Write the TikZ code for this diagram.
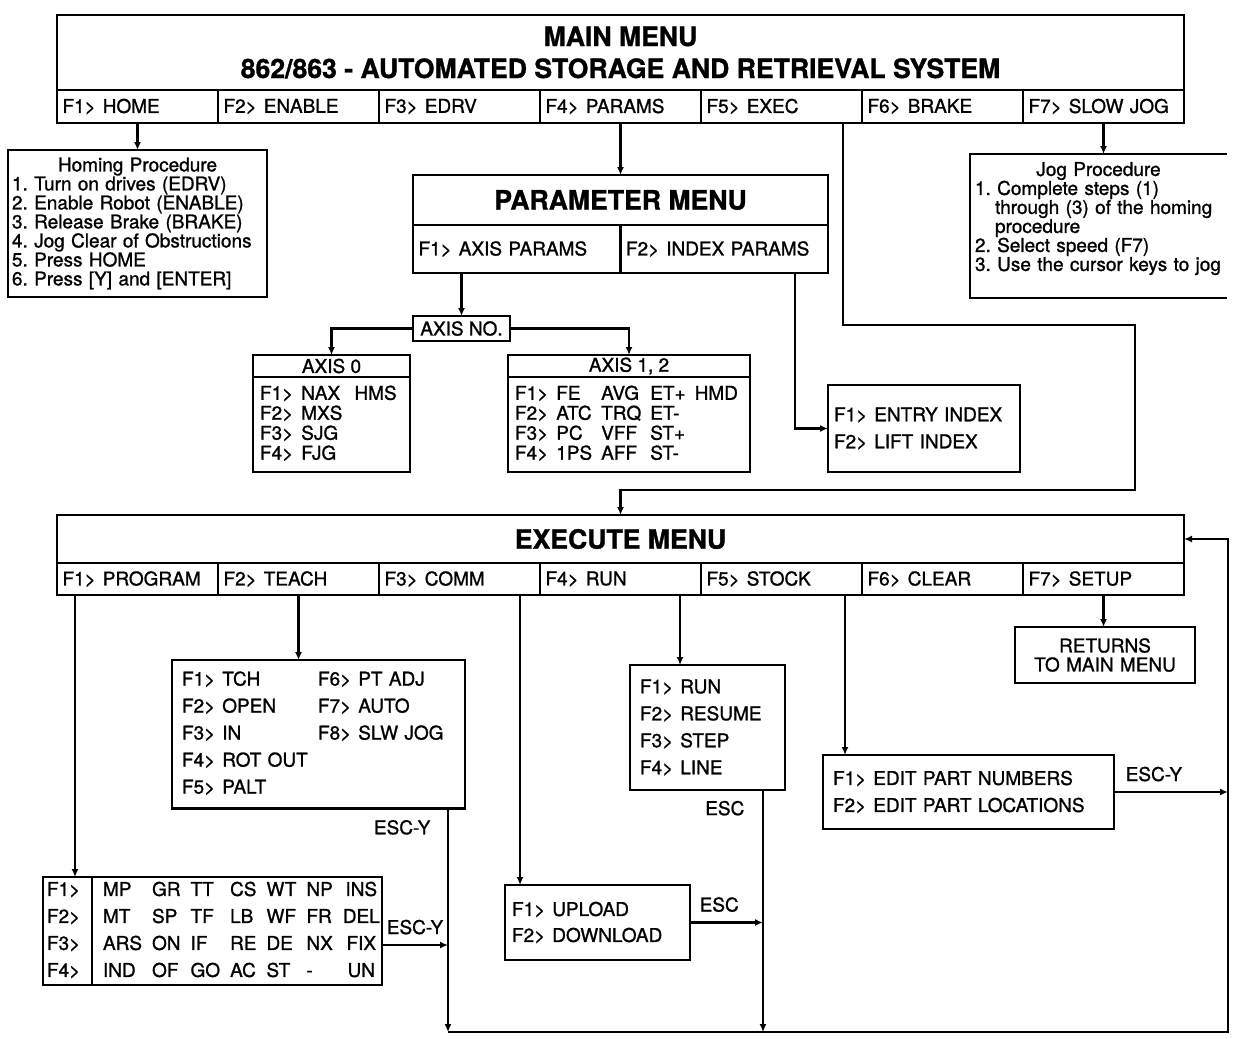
\documentclass[tikz,border=0pt]{standalone}
\usepackage{fontspec}
\setmainfont{TeX Gyre Heros}[FakeBold=1.1]
\usetikzlibrary{positioning,arrows.meta}
\frenchspacing
\newcommand{\Fk}[1]{F#1>\hspace{3.5pt}}

\begin{document}
\begin{tikzpicture}[
  x=0.5pt, y=-0.5pt,
  every node/.style={font=\fontsize{9.5}{9.6}\selectfont, outer sep=0pt},
  ttl/.style  ={draw, line width=1.4pt, anchor=north west, align=center,
                font=\fontsize{13.3}{16}\selectfont\bfseries},
  fkey/.style ={draw, line width=1.4pt, text width=75pt, inner xsep=2.75pt,
                minimum height=16.5pt, align=left},
  hdr/.style  ={draw, line width=1.4pt, anchor=north west, inner sep=0pt,
                minimum height=11pt},
  panel/.style={draw, line width=1.4pt, anchor=north west, align=left,
                inner xsep=5pt, font=\fontsize{9.5}{13.5}\selectfont},
  proc/.style ={panel, inner xsep=2.5pt, font=\fontsize{9.5}{9.5}\selectfont},
  arr/.style  ={-{Latex[length=4pt,width=3.5pt]}, line width=1.2pt},
  esc/.style  ={font=\fontsize{9.5}{9.6}\selectfont}
]
\useasboundingbox (0,0) rectangle (1234,1038);

%% --- Main menu -----------------------------------------------
\node[ttl, minimum width=563.5pt, minimum height=37.5pt] (mtitle) at (57,15)
     {MAIN MENU\\862/863 - AUTOMATED STORAGE AND RETRIEVAL SYSTEM};
\node[fkey, anchor=north west] (mf1) at (mtitle.south west) {\Fk{1}HOME};
\node[fkey, right=0pt of mf1] (mf2) {\Fk{2}ENABLE};
\node[fkey, right=0pt of mf2] (mf3) {\Fk{3}EDRV};
\node[fkey, right=0pt of mf3] (mf4) {\Fk{4}PARAMS};
\node[fkey, right=0pt of mf4] (mf5) {\Fk{5}EXEC};
\node[fkey, right=0pt of mf5] (mf6) {\Fk{6}BRAKE};
\node[fkey, right=0pt of mf6] (mf7) {\Fk{7}SLOW JOG};

%% --- Procedures ----------------------------------------------
\node[proc, inner xsep=2pt, text width=125.5pt, minimum height=73.5pt] (homing) at (8,150)
     {\makebox[\hsize]{Homing Procedure}\\
      1. Turn on drives (EDRV)\\
      2. Enable Robot (ENABLE)\\
      3. Release Brake (BRAKE)\\
      4. Jog Clear of Obstructions\\
      5. Press HOME\\
      6. Press [Y] and [ENTER]};
\node[proc, draw=none, text width=123.5pt, minimum height=72pt] (jog) at (970,154)
     {\makebox[\hsize]{Jog Procedure}\\
      1. Complete steps (1)\\
      \hspace*{10pt}through (3) of the homing\\
      \hspace*{10pt}procedure\\
      2. Select speed (F7)\\
      3. Use the cursor keys to jog\\
      \mbox{}};
% open on the right
\draw[line width=1.4pt] (jog.north east) -- (jog.north west)
     -- (jog.south west) -- (jog.south east);

%% --- Parameter menu ------------------------------------------
\node[ttl, minimum width=207.5pt, minimum height=25pt] (ptitle) at (413,175)
     {PARAMETER MENU};
\node[fkey, text width=98.25pt, minimum height=24pt, anchor=north west] (pf1)
     at (ptitle.south west) {\Fk{1}AXIS PARAMS};
\node[fkey, text width=98.25pt, minimum height=24pt, right=0pt of pf1] (pf2)
     {\Fk{2}INDEX PARAMS};

\node[draw, line width=1.4pt, minimum width=48.5pt, minimum height=12.5pt,
      inner sep=0pt] (axisno) at (461.5,328.5) {AXIS NO.};

\node[hdr, minimum width=78.5pt] (ax0h) at (253,355) {AXIS 0};
\node[panel, inner xsep=3.5pt, text width=71.5pt, minimum height=47.5pt,
      font=\fontsize{9.5}{9.6}\selectfont] (ax0) at (ax0h.south west)
     {\begin{tabular}{@{}l@{\hspace{4pt}}l@{\hspace{6pt}}l@{}}
      F1> & NAX & HMS\\ F2> & MXS\\ F3> & SJG\\ F4> & FJG
      \end{tabular}\\[-2pt]\mbox{}};

\node[hdr, minimum width=121pt] (ax12h) at (508,355) {AXIS 1, 2};
\node[panel, inner xsep=3.5pt, text width=114pt, minimum height=47.5pt,
      font=\fontsize{9.5}{9.6}\selectfont] (ax12) at (ax12h.south west)
     {\begin{tabular}{@{}l@{\hspace{4pt}}l@{\hspace{4.5pt}}l@{\hspace{4.5pt}}l@{\hspace{4.5pt}}l@{}}
      F1> & FE  & AVG & ET+ & HMD\\
      F2> & ATC & TRQ & ET-\\
      F3> & PC  & VFF & ST+\\
      F4> & 1PS & AFF & ST-
      \end{tabular}\\[-2pt]\mbox{}};

\node[panel, inner xsep=3pt, text width=90pt, minimum height=43.5pt] (index) at (828,385)
     {\Fk{1}ENTRY INDEX\\\Fk{2}LIFT INDEX};

%% --- Execute menu --------------------------------------------
\node[ttl, minimum width=563.5pt, minimum height=24pt] (etitle) at (57,515)
     {EXECUTE MENU};
\node[fkey, minimum height=16pt, anchor=north west] (ef1) at (etitle.south west)
     {\Fk{1}PROGRAM};
\node[fkey, minimum height=16pt, right=0pt of ef1] (ef2) {\Fk{2}TEACH};
\node[fkey, minimum height=16pt, right=0pt of ef2] (ef3) {\Fk{3}COMM};
\node[fkey, minimum height=16pt, right=0pt of ef3] (ef4) {\Fk{4}RUN};
\node[fkey, minimum height=16pt, right=0pt of ef4] (ef5) {\Fk{5}STOCK};
\node[fkey, minimum height=16pt, right=0pt of ef5] (ef6) {\Fk{6}CLEAR};
\node[fkey, minimum height=16pt, right=0pt of ef6] (ef7) {\Fk{7}SETUP};

\node[panel, text width=136.5pt, minimum height=73.5pt] (teach) at (172,660)
     {\begin{tabular}{@{}p{68pt}@{}l@{}}
      \Fk{1}TCH     & \Fk{6}PT ADJ\\
      \Fk{2}OPEN    & \Fk{7}AUTO\\
      \Fk{3}IN      & \Fk{8}SLW JOG\\
      \Fk{4}ROT OUT & \\
      \Fk{5}PALT    &
      \end{tabular}};

\node[panel, text width=67.5pt, minimum height=62.5pt] (run) at (630,665)
     {\Fk{1}RUN\\\Fk{2}RESUME\\\Fk{3}STEP\\\Fk{4}LINE};

\node[panel, text width=135.5pt, minimum height=37pt] (stock) at (823,755)
     {\Fk{1}EDIT PART NUMBERS\\\Fk{2}EDIT PART LOCATIONS};

\node[panel, align=center, text width=80pt, minimum height=28pt,
      font=\fontsize{9.5}{9.5}\selectfont] (returns) at (1015,627)
     {RETURNS\\TO MAIN MENU};

\node[panel, inner xsep=3.5pt, text width=85.5pt, minimum height=37.5pt,
      font=\fontsize{9.5}{13}\selectfont] (upload) at (505,885)
     {\Fk{1}UPLOAD\\\Fk{2}DOWNLOAD};

\node[panel, inner xsep=2pt, inner ysep=0pt, text width=20.5pt,
      minimum height=54pt] (progkeys) at (43,877)
     {\begin{tabular}{@{}l@{}}F1>\\F2>\\F3>\\F4>\end{tabular}};
\node[panel, inner xsep=5.5pt, inner ysep=0pt, text width=134pt,
      minimum height=54pt, right=0pt of progkeys] (progcmds)
     {\setlength{\tabcolsep}{2.5pt}%
      \begin{tabular}{@{}llllllcl@{}}
      MP  & GR & TT & CS & WT & NP & INS\\
      MT  & SP & TF & LB & WF & FR & DEL\\
      ARS & ON & IF & RE & DE & NX & FIX\\
      IND & OF & GO & AC & ST & -  & UN
      \end{tabular}};

%% --- Main menu links -----------------------------------------
\draw[arr] (mf1.south) -- (homing.north);
\draw[arr] (mf4.south) -- (ptitle.north);
\draw[arr] (mf7.south) -- (mf7.south |- jog.north);
% EXEC -> execute menu
\coordinate (execdrop) at ([xshift=-9.5pt]mf5.south east);
\coordinate (execturn) at (1135,490);
\draw[arr] (execdrop) -- ++(0,202) -| (execturn) -| (etitle.north);

%% --- Parameter links -----------------------------------------
\draw[arr] (axisno.north |- pf1.south) -- (axisno.north);
\draw[arr] (axisno.west) -| (ax0h.north);
\draw[arr] (axisno.east) -| (ax12h.north);
\coordinate (idxdrop) at ([xshift=-16.5pt]pf2.south east);
\draw[arr] (idxdrop) |- (index.west);

%% --- Execute links -------------------------------------------
\coordinate (progdrop) at ([xshift=9pt]ef1.south west);
\draw[arr] (progdrop) -- (progdrop |- progkeys.north);
\draw[arr] (ef2.south) -- (ef2.south |- teach.north);
\coordinate (commdrop) at ([xshift=-10pt]ef3.south east);
\draw[arr] (commdrop) -- (commdrop |- upload.north);
\coordinate (rundrop) at ([xshift=-10.5pt]ef4.south east);
\draw[arr] (rundrop) -- (rundrop |- run.north);
\coordinate (stockdrop) at ([xshift=-8.5pt]ef5.south east);
\draw[arr] (stockdrop) -- (stockdrop |- stock.north);
\draw[arr] (ef7.south) -- (ef7.south |- returns.north);

%% --- Escape paths back to execute menu -----------------------
\coordinate (teachesc) at ([xshift=-8.5pt]teach.south east);
\coordinate (runesc) at ([xshift=-11pt]run.south east);
\coordinate (loopend) at (1228,1032);
\coordinate (progesc) at ([yshift=-7pt]progcmds.east);
\draw[arr] (teachesc) -- (teachesc |- loopend)
     node[esc, pos=0.085, left, xshift=-5.5pt] {ESC-Y};
\draw[arr] (runesc) -- (runesc |- loopend)
     node[esc, pos=0.075, left, xshift=-6pt] {ESC};
\draw[arr] (progesc) -- (progesc -| teachesc)
     node[esc, midway, above, yshift=2pt] {ESC-Y};
\draw[arr] (upload.east) -- (upload.east -| runesc)
     node[esc, pos=0.4, above, yshift=2pt] {ESC};
\draw[arr] (stock.east) -- (stock.east -| loopend)
     node[esc, pos=0.35, above, yshift=2pt] {ESC-Y};
% bottom return line
\draw[arr] (teachesc |- loopend) -- (loopend) |- (etitle.east);

\end{tikzpicture}
\end{document}
